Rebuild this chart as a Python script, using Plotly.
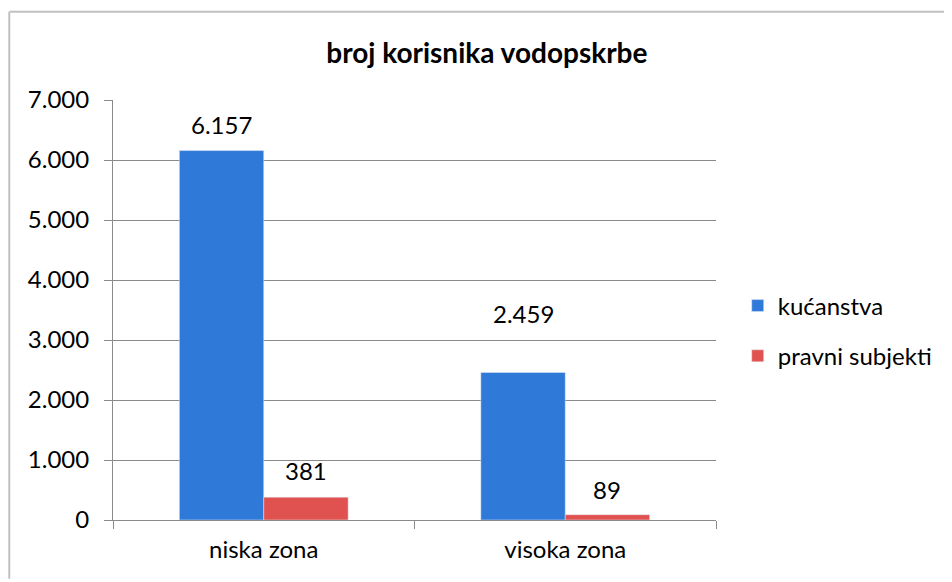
import plotly.graph_objects as go

zone = ["niska zona", "visoka zona"]
kucanstva = [6157, 2459]
pravni_subjekti = [381, 89]
y_ticks = [0, 1000, 2000, 3000, 4000, 5000, 6000, 7000]

blue = "#2F79D8"
red = "#E0524F"
font = "Lato, 'Open Sans', sans-serif"

fig = go.Figure()
fig.add_trace(go.Bar(x=zone, y=kucanstva, name="kućanstva", marker_color=blue,
                     legendgroup="a"))
fig.add_trace(go.Bar(x=zone, y=pravni_subjekti, name="pravni subjekti", marker_color=red,
                     legendgroup="b"))

# data labels sit a bit above the bars, as in the original
shifts = [[26, 59], [27, 25]]
for i, (series, off) in enumerate(zip([kucanstva, pravni_subjekti], [-0.14, 0.14])):
    for j, v in enumerate(series):
        fig.add_annotation(x=j + off, y=v, text=f"{v:,}".replace(",", "."),
                           showarrow=False, yshift=shifts[i][j],
                           font=dict(size=24, color="#000", family=font))

fig.update_layout(
    width=952, height=582,
    margin=dict(l=105, r=244, t=92, b=70),
    paper_bgcolor="white", plot_bgcolor="white",
    separators=",.",
    barmode="group", bargap=0.44, bargroupgap=0,
    font=dict(family=font, size=24, color="#000"),
    title=dict(text="<b>broj korisnika vodopskrbe</b>", x=0.503, xanchor="center",
               y=0.922, yanchor="middle", font=dict(size=28, family=font)),
    legend=dict(x=1.036, y=0.45, xanchor="left", yanchor="middle",
                font=dict(size=24, family=font), tracegroupgap=16,
                bgcolor="rgba(0,0,0,0)"),
    showlegend=True,
)
fig.update_yaxes(range=[0, 7000], tickvals=y_ticks, tickformat=",d",
                 showgrid=True, gridcolor="#8a8a8a", gridwidth=1,
                 showline=True, linecolor="#8a8a8a", ticks="outside",
                 ticklen=8, tickcolor="#8a8a8a", zeroline=False,
                 ticklabelstandoff=10, tickfont=dict(size=24))
fig.update_xaxes(showline=True, linecolor="#8a8a8a", ticks="outside",
                 tickson="boundaries", ticklen=8, tickcolor="#8a8a8a",
                 ticklabelstandoff=8, tickfont=dict(size=24), showgrid=False)

# light frame lines (top and left) around the chart
frame = dict(color="#c0c0c0", width=2)
fig.add_shape(type="line", xref="paper", yref="paper",
              x0=-0.172, x1=1.39, y0=1.21, y1=1.21, line=frame)
fig.add_shape(type="line", xref="paper", yref="paper",
              x0=-0.172, x1=-0.172, y0=-0.14, y1=1.21, line=frame)

fig.write_html("out.html")
